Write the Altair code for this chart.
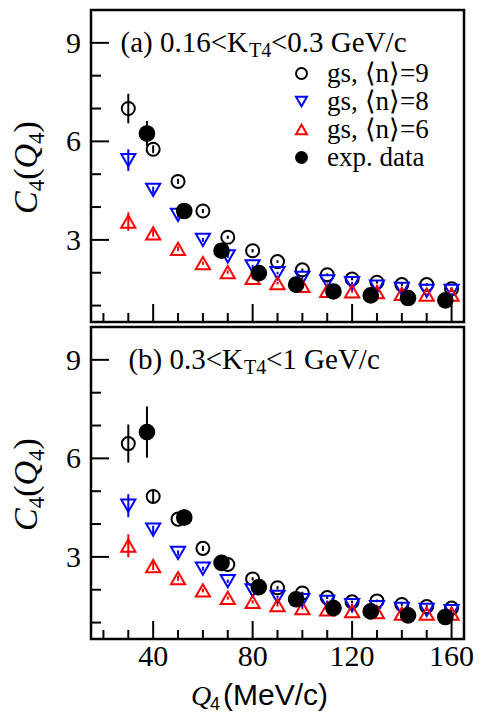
import altair as alt
import pandas as pd

# ---------------- data ----------------
q_gs = [30, 40, 50, 60, 70, 80, 90, 100, 110, 120, 130, 140, 150, 160]
q_exp = [37.5, 52.5, 67.5, 82.5, 97.5, 112.5, 127.5, 142.5, 157.5]

series_names = ["gs, \u27e8n\u27e9=9", "gs, \u27e8n\u27e9=8", "gs, \u27e8n\u27e9=6", "exp. data"]
series_stroke = ["black", "#0000ff", "#ff0000", "black"]
series_fill = ["transparent", "transparent", "transparent", "black"]
series_shape = ["circle", "triangle-down", "triangle-up", "circle"]
series_size = [170, 200, 200, 215]

# panel (a) 0.16 < K_T4 < 0.3 GeV/c
gs9_a = [7.0, 5.76, 4.78, 3.88, 3.08, 2.67, 2.34, 2.09, 1.94, 1.81, 1.71, 1.64, 1.64, 1.51]
gs8_a = [5.43, 4.52, 3.76, 3.0, 2.5, 2.19, 1.99, 1.84, 1.74, 1.68, 1.58, 1.51, 1.45, 1.45]
gs6_a = [3.56, 3.2, 2.73, 2.29, 2.02, 1.84, 1.68, 1.6, 1.45, 1.43, 1.41, 1.36, 1.33, 1.33]
exp_a = [6.24, 3.88, 2.67, 1.99, 1.64, 1.43, 1.31, 1.23, 1.16]
err9_a = [0.45, 0.12, 0.08, 0.06, 0.05, 0.05, 0.04, 0.04, 0.04, 0.04, 0.04, 0.04, 0.04, 0.04]
err8_a = [0.33, 0.1, 0.08, 0.06, 0.05, 0.05, 0.04, 0.04, 0.04, 0.04, 0.04, 0.04, 0.04, 0.04]
err6_a = [0.28, 0.1, 0.07, 0.05, 0.05, 0.04, 0.04, 0.04, 0.04, 0.04, 0.04, 0.04, 0.04, 0.04]
errexp_a = [0.38, 0.12, 0.1, 0.08, 0.06, 0.05, 0.05, 0.05, 0.05]

# panel (b) 0.3 < K_T4 < 1 GeV/c
gs9_b = [6.45, 4.84, 4.15, 3.26, 2.77, 2.33, 2.06, 1.9, 1.76, 1.63, 1.66, 1.55, 1.49, 1.44]
gs8_b = [4.56, 3.83, 3.12, 2.64, 2.26, 1.98, 1.78, 1.68, 1.63, 1.53, 1.47, 1.42, 1.39, 1.35]
gs6_b = [3.34, 2.72, 2.35, 1.98, 1.75, 1.63, 1.53, 1.44, 1.40, 1.35, 1.32, 1.27, 1.27, 1.27]
exp_b = [6.8, 4.2, 2.82, 2.08, 1.71, 1.44, 1.34, 1.22, 1.17]
err9_b = [0.58, 0.2, 0.1, 0.08, 0.06, 0.05, 0.05, 0.04, 0.04, 0.04, 0.04, 0.04, 0.04, 0.04]
err8_b = [0.35, 0.12, 0.08, 0.06, 0.05, 0.05, 0.04, 0.04, 0.04, 0.04, 0.04, 0.04, 0.04, 0.04]
err6_b = [0.35, 0.12, 0.08, 0.06, 0.05, 0.05, 0.04, 0.04, 0.04, 0.04, 0.04, 0.04, 0.04, 0.04]
errexp_b = [0.78, 0.25, 0.12, 0.1, 0.08, 0.06, 0.05, 0.05, 0.05]

# axis ticks and tick labels
x_major = [40, 80, 120, 160]
x_major_labels = ["40", "80", "120", "160"]
x_minor = [20, 30, 50, 60, 70, 90, 100, 110, 130, 140, 150]
y_major = [3, 6, 9]
y_major_labels = ["3", "6", "9"]
y_minor = [1, 2, 4, 5, 7, 8]

# y title pieces: (text, italic, subscript)
ytitle_parts = [("C", True, False), ("4", False, True), ("(", False, False),
                ("Q", True, False), ("4", False, True), (")", False, False)]

# ---------------- layout ----------------
W, H = 373, 312
XDOM = [15, 165]
YDOM = [0.5, 10]
SERIF = "Liberation Serif"
SANS = "Liberation Sans"

xscale = alt.Scale(domain=XDOM, nice=False, zero=False)
yscale = alt.Scale(domain=YDOM, nice=False, zero=False)


def X(f):
    return alt.X(f, scale=xscale, axis=None)


def Y(f):
    return alt.Y(f, scale=yscale, axis=None)


def legend_obj():
    return alt.Legend(
        orient="none", legendX=197, legendY=50, title=None, padding=0,
        labelFont=SERIF, labelFontSize=27, labelColor="black", labelOffset=12,
        symbolSize=120, symbolStrokeWidth=2, rowPadding=0, labelLimit=300,
    )


def stroke_enc():
    return alt.Stroke("series:N", scale=alt.Scale(domain=series_names, range=series_stroke), legend=legend_obj())


def txt(s, x, y, size, font=SERIF, style="normal", align="left", angle=0):
    return alt.Chart(pd.DataFrame({"t": [s]})).mark_text(
        font=font, fontSize=size, fontStyle=style, align=align, baseline="alphabetic",
        color="black", angle=angle).encode(text="t:N", x=alt.value(x), y=alt.value(y))


def panel(vals, errs, seg1, seg2, seg3, seg_x, bottom):
    rows = []
    for i, name in enumerate(series_names):
        qs = q_exp if i == 3 else q_gs
        for q, c, e in zip(qs, vals[i], errs[i]):
            rows.append(dict(series=name, q=q, c=c, lo=c - e, hi=c + e, order=i, sz=series_size[i]))
    df = pd.DataFrame(rows)

    base = alt.Chart(df)
    errbars = base.mark_rule(strokeWidth=2).encode(
        x=X("q:Q"), y=Y("lo:Q"), y2="hi:Q", stroke=stroke_enc(),
    )
    pts = base.mark_point(opacity=1, strokeWidth=2).encode(
        x=X("q:Q"),
        y=Y("c:Q"),
        size=alt.Size("sz:Q", scale=None, legend=None),
        order=alt.Order("order:Q"),
        stroke=stroke_enc(),
        fill=alt.Fill("series:N", scale=alt.Scale(domain=series_names, range=series_fill), legend=legend_obj()),
        shape=alt.Shape("series:N", scale=alt.Scale(domain=series_names, range=series_shape), legend=legend_obj()),
    )

    ytm = alt.Chart(pd.DataFrame({"v": y_major})).mark_rule(color="black", strokeWidth=2).encode(
        y=Y("v:Q"), x=alt.value(0), x2=alt.value(18))
    ytn = alt.Chart(pd.DataFrame({"v": y_minor})).mark_rule(color="black", strokeWidth=2).encode(
        y=Y("v:Q"), x=alt.value(0), x2=alt.value(10))
    xtm = alt.Chart(pd.DataFrame({"v": x_major})).mark_rule(color="black", strokeWidth=2).encode(
        x=X("v:Q"), y=alt.value(H), y2=alt.value(H - 18))
    xtn = alt.Chart(pd.DataFrame({"v": x_minor})).mark_rule(color="black", strokeWidth=2).encode(
        x=X("v:Q"), y=alt.value(H), y2=alt.value(H - 9))

    # y tick labels
    ylab = alt.Chart(pd.DataFrame({"v": y_major, "t": y_major_labels})).mark_text(
        font=SERIF, fontSize=30, align="right", baseline="alphabetic", dy=10, color="black").encode(
        y=Y("v:Q"), x=alt.value(-10), text="t:N")

    # y title, rotated, built from pieces going upwards
    ytitle = []
    ypos = 204
    for s, it, sub in ytitle_parts:
        size = 23 if sub else 34
        ytitle.append(txt(s, -54 + (7 if sub else 0), ypos, size,
                          style="italic" if it else "normal", angle=270))
        w = {"C": 0.667, "Q": 0.722, "(": 0.333, ")": 0.333, "4": 0.5}[s] * size
        ypos -= w

    ty = 42
    t1 = txt(seg1, seg_x[0], ty, 29, align="right")
    t2 = txt(seg2, seg_x[0] + 1, ty + 5, 20)
    t3 = txt(seg3, seg_x[1], ty, 29)

    layers = [errbars, pts, ytm, ytn, xtm, xtn, ylab] + ytitle + [t1, t2, t3]

    if bottom:
        xlab = alt.Chart(pd.DataFrame({"v": x_major, "t": x_major_labels})).mark_text(
            font=SERIF, fontSize=30, align="center", baseline="alphabetic", color="black").encode(
            x=X("v:Q"), y=alt.value(H + 27), text="t:N")
        xq = txt("Q", 100, 378, 28, style="italic")
        x4 = txt("4", 119, 383, 18, font=SANS)
        xu = txt("(MeV/c)", 132, 378, 30, font=SANS)
        layers += [xlab, xq, x4, xu]

    return alt.layer(*layers).properties(width=W, height=H)


top = panel([gs9_a, gs8_a, gs6_a, exp_a], [err9_a, err8_a, err6_a, errexp_a],
            "(a) 0.16<K", "T4", "<0.3 GeV/c", [157, 180], False)
bot = panel([gs9_b, gs8_b, gs6_b, exp_b], [err9_b, err8_b, err6_b, errexp_b],
            "(b) 0.3<K", "T4", "<1 GeV/c", [152, 175], True)

chart = alt.vconcat(top, bot, spacing=0).properties(
    padding={"left": 0, "top": 0, "right": 0, "bottom": 0},
    background="white",
).configure_view(
    stroke="black", strokeWidth=2.5
)

chart.save("out.html", embed_options={"renderer": "svg", "actions": False})
